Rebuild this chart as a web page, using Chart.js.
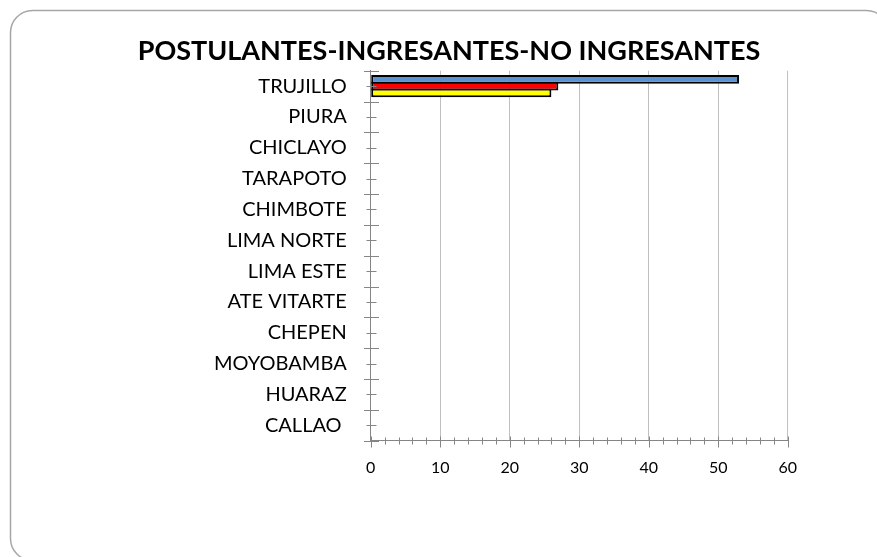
<!DOCTYPE html>
<html>
<head>
<meta charset="utf-8">
<script src="https://cdn.jsdelivr.net/npm/chart.js@4"></script>
<style>
html,body{margin:0;padding:0;overflow:hidden;background:#fff;}
canvas{display:block;}
</style>
</head>
<body>
<canvas id="c" width="898" height="557"></canvas>
<script>
const categories = ["TRUJILLO","PIURA","CHICLAYO","TARAPOTO","CHIMBOTE","LIMA NORTE","LIMA ESTE","ATE VITARTE","CHEPEN","MOYOBAMBA","HUARAZ","CALLAO "];
const postulantes   = [53,0,0,0,0,0,0,0,0,0,0,0];
const ingresantes   = [27,0,0,0,0,0,0,0,0,0,0,0];
const noIngresantes = [26,0,0,0,0,0,0,0,0,0,0,0];
const xTicks = [0,10,20,30,40,50,60];
const titleText = "POSTULANTES-INGRESANTES-NO INGRESANTES";

const AXIS = '#868686';
const PAD = 110.3;

const framePlugin = {
  id: 'frame',
  beforeDraw(chart) {
    const ctx = chart.ctx;
    ctx.save();
    ctx.fillStyle = '#fff';
    ctx.fillRect(0, 0, chart.width, chart.height);
    ctx.beginPath();
    ctx.roundRect(10.5, 10.5, 878, 550, 22);
    ctx.strokeStyle = '#a6a6a6';
    ctx.lineWidth = 1.5;
    ctx.stroke();
    ctx.restore();
  }
};

const tickPlugin = {
  id: 'ticksCustom',
  afterDraw(chart) {
    const ctx = chart.ctx;
    const xs = chart.scales.x, ys = chart.scales.y;
    const ax = Math.round(xs.getPixelForValue(0)) + 0.5;
    const ay = Math.round(ys.bottom) + 0.5;
    ctx.save();
    ctx.strokeStyle = AXIS;
    ctx.lineWidth = 1;
    ctx.beginPath();
    const n = categories.length;
    const h = (ys.bottom - ys.top) / n;
    for (let i = 0; i <= n; i++) {
      const y = Math.round(ys.top + i * h) + 0.5;
      ctx.moveTo(ax - 7.5, y); ctx.lineTo(ax + 7.5, y);
    }
    for (let i = 0; i < n; i++) {
      const y = Math.round(ys.getPixelForTick(i)) + 0.5;
      ctx.moveTo(ax - 5, y); ctx.lineTo(ax + 5, y);
    }
    for (let v = xTicks[0]; v <= xTicks[xTicks.length - 1]; v += 2) {
      const x = Math.round(xs.getPixelForValue(v)) + 0.5;
      if (v % 10 === 0) { ctx.moveTo(x, ay - 5); ctx.lineTo(x, ay + 6); }
      else { ctx.moveTo(x, ay - 4); ctx.lineTo(x, ay + 3); }
    }
    ctx.stroke();
    ctx.restore();
  }
};

new Chart(document.getElementById('c'), {
  type: 'bar',
  data: {
    labels: categories,
    datasets: [
      { label: 'POSTULANTES', data: postulantes, backgroundColor: '#5b92d0', borderColor: '#000', borderWidth: 2 },
      { label: 'INGRESANTES', data: ingresantes, backgroundColor: '#ff0000', borderColor: '#000', borderWidth: 2 },
      { label: 'NO INGRESANTES', data: noIngresantes, backgroundColor: '#ffff00', borderColor: '#000', borderWidth: 2 }
    ]
  },
  options: {
    responsive: false,
    animation: false,
    indexAxis: 'y',
    layout: { padding: { left: PAD, right: PAD, top: 0, bottom: 0 } },
    datasets: { bar: { barPercentage: 1.3, categoryPercentage: 0.65, borderSkipped: false } },
    plugins: {
      legend: { display: false },
      tooltip: { enabled: false },
      title: {
        display: true,
        text: titleText,
        color: '#000',
        font: { family: 'Lato', size: 27, weight: 'bold', lineHeight: 1.2 },
        padding: { top: 35, bottom: 3.3 }
      }
    },
    scales: {
      x: {
        type: 'linear',
        min: 0, max: 60,
        afterBuildTicks(scale) { scale.ticks = xTicks.map(v => ({ value: v })); },
        afterFit(scale) { scale.height = 557 - 440.7; },
        ticks: { color: '#000', font: { family: 'Lato', size: 16 }, padding: 18 },
        grid: { color: '#c0c0c0', lineWidth: 1, drawTicks: false },
        border: { display: true, color: AXIS, width: 1 }
      },
      y: {
        type: 'category',
        afterFit(scale) { scale.width = 370.7 - PAD; },
        ticks: { color: '#000', font: { family: 'Lato', size: 20 }, padding: 24 },
        grid: { color: 'rgba(0,0,0,0)', drawTicks: false },
        border: { display: true, color: AXIS, width: 1 }
      }
    }
  },
  plugins: [framePlugin, tickPlugin]
});
</script>
</body>
</html>
